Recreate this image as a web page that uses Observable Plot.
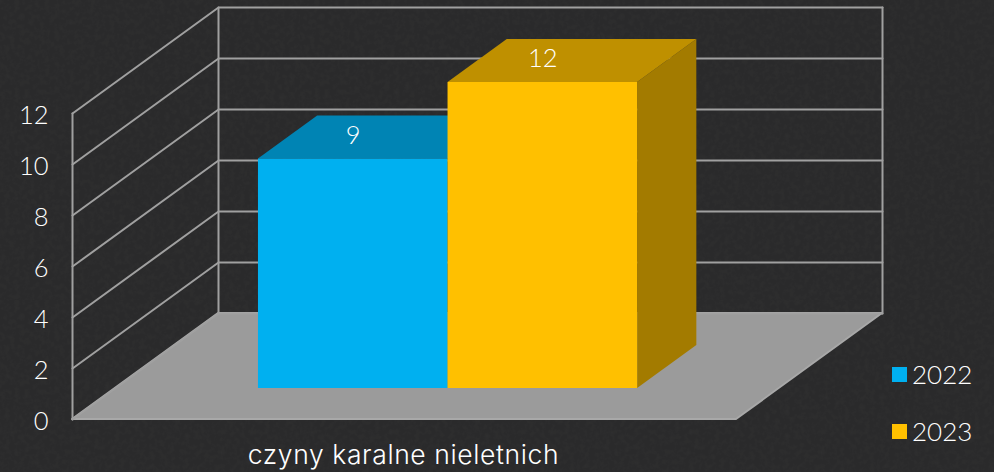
<!DOCTYPE html>
<html lang="pl">
<head>
<meta charset="utf-8">
<script src="https://cdn.jsdelivr.net/npm/d3@7"></script>
<script src="https://cdn.jsdelivr.net/npm/@observablehq/plot@0.6"></script>
<style>
html,body{margin:0;padding:0;background-color:#2a2a2b;width:994px;height:472px;overflow:hidden}
body{background-image:url("data:image/svg+xml,%3Csvg xmlns='http://www.w3.org/2000/svg' width='300' height='300'%3E%3Cfilter id='n'%3E%3CfeTurbulence type='fractalNoise' baseFrequency='0.2' numOctaves='3' seed='4'/%3E%3CfeColorMatrix values='0 0 0 0 1 0 0 0 0 1 0 0 0 0 1 0.9 0 0 0 -0.42'/%3E%3C/filter%3E%3Crect width='300' height='300' filter='url(%23n)' opacity='0.05'/%3E%3C/svg%3E")}
#chart{position:relative;width:994px;height:472px}
#chart svg{display:block;background:transparent}
.legend{position:absolute;left:892px;color:#fff;font:26px "Lato",sans-serif;font-weight:300;display:flex;align-items:center;gap:5px;line-height:28px}
.legend i{display:block;width:15px;height:15px}
</style>
</head>
<body>
<div id="chart"></div>
<script>
const category = "czyny karalne nieletnich";
const years = ["2022", "2023"];
const values = [9, 12];
const yTicks = [0, 2, 4, 6, 8, 10, 12];
const frontColors = ["#00b0f0", "#ffc000"];
const topColors = ["#0084b4", "#bf9000"];
const sideColors = ["#006a90", "#a37b00"];

// oblique projection of the chart box: depth 0..1 shifts both scales
const depthX = 146 / 664, depthY = 106 / 25.5;
const P = (u, v, w) => ({x: u + w * depthX, y: v + w * depthY});
const quad = (a, b, c, d) => [
  {x1: a.x, y1: a.y, x2: d.x, y2: d.y},
  {x1: b.x, y1: b.y, x2: c.x, y2: c.y}
];
const face = (q, fill, extra = {}) =>
  Plot.area(q, {x1: "x1", y1: "y1", x2: "x2", y2: "y2", fill, ...extra});

const barStart = 0.2158, barWidth = 0.2855, barNear = 0.2923, barFar = 0.698;

const grid = yTicks.flatMap(t => [P(0, t, 0), P(0, t, 1), P(1, t, 1)].map(p => ({...p, t})));
const walls = [
  [P(0, 0, 0), P(0, 12, 0)],
  [P(0, 0, 1), P(0, 12, 1)],
  [P(1, 0, 1), P(1, 12, 1)]
];

const barMarks = years.flatMap((yr, i) => {
  const u0 = barStart + i * barWidth, u1 = u0 + barWidth, v = values[i];
  return [
    face(quad(P(u1, 0, barNear), P(u1, 0, barFar), P(u1, v, barFar), P(u1, v, barNear)), sideColors[i]),
    face(quad(P(u0, v, barNear), P(u1, v, barNear), P(u1, v, barFar), P(u0, v, barFar)), topColors[i]),
    face(quad(P(u0, 0, barNear), P(u1, 0, barNear), P(u1, v, barNear), P(u0, v, barNear)), frontColors[i])
  ];
});

// each value label sits over the centre of its bar's front face, on the top face
const labelData = years.map((yr, i) => ({
  x: barStart + (i + 0.5) * barWidth + barNear * depthX,
  y: P(0, values[i], barNear).y + 0.92,
  label: String(values[i])
}));

const plot = Plot.plot({
  width: 994, height: 472,
  marginLeft: 72, marginRight: 258, marginTop: 113, marginBottom: 53,
  style: {background: "transparent", fontFamily: "Lato, sans-serif"},
  x: {domain: [0, 1], axis: null},
  y: {domain: [0, 12], axis: null},
  marks: [
    face(quad(P(0, 0, 0), P(1, 0, 0), P(1, 0, 1), P(0, 0, 1)), "#9b9b9b", {stroke: "#a8a8a8", strokeWidth: 2}),
    Plot.line(grid, {x: "x", y: "y", z: "t", stroke: "#a0a0a0", strokeWidth: 2}),
    ...walls.map(w => Plot.line(w, {x: "x", y: "y", stroke: "#a0a0a0", strokeWidth: 2})),
    ...barMarks,
    Plot.text(labelData, {x: "x", y: "y", text: "label", fill: "#fff", fontSize: 25.5, fontWeight: 300}),
    Plot.axisY({ticks: yTicks, tickSize: 0, tickPadding: 24, tickFormat: String, fontSize: 25.5, fontWeight: 300, fill: "#fff", label: null, dy: 2}),
    Plot.text([category], {x: [0.5], y: [0], dx: -1, dy: 36, fill: "#fff", fontSize: 26.5, fontWeight: 300, fontFamily: "Inter, sans-serif"})
  ]
});
plot.querySelectorAll("text").forEach(t => {
  if (t.textContent === category) t.style.letterSpacing = "0.6px";
});
const root = document.getElementById("chart");
root.appendChild(plot);
years.forEach((yr, i) => {
  const d = document.createElement("div");
  d.className = "legend";
  d.style.top = (360 + i * 57) + "px";
  const sw = document.createElement("i");
  sw.style.background = frontColors[i];
  d.appendChild(sw);
  d.appendChild(document.createTextNode(yr));
  root.appendChild(d);
});
</script>
</body>
</html>
